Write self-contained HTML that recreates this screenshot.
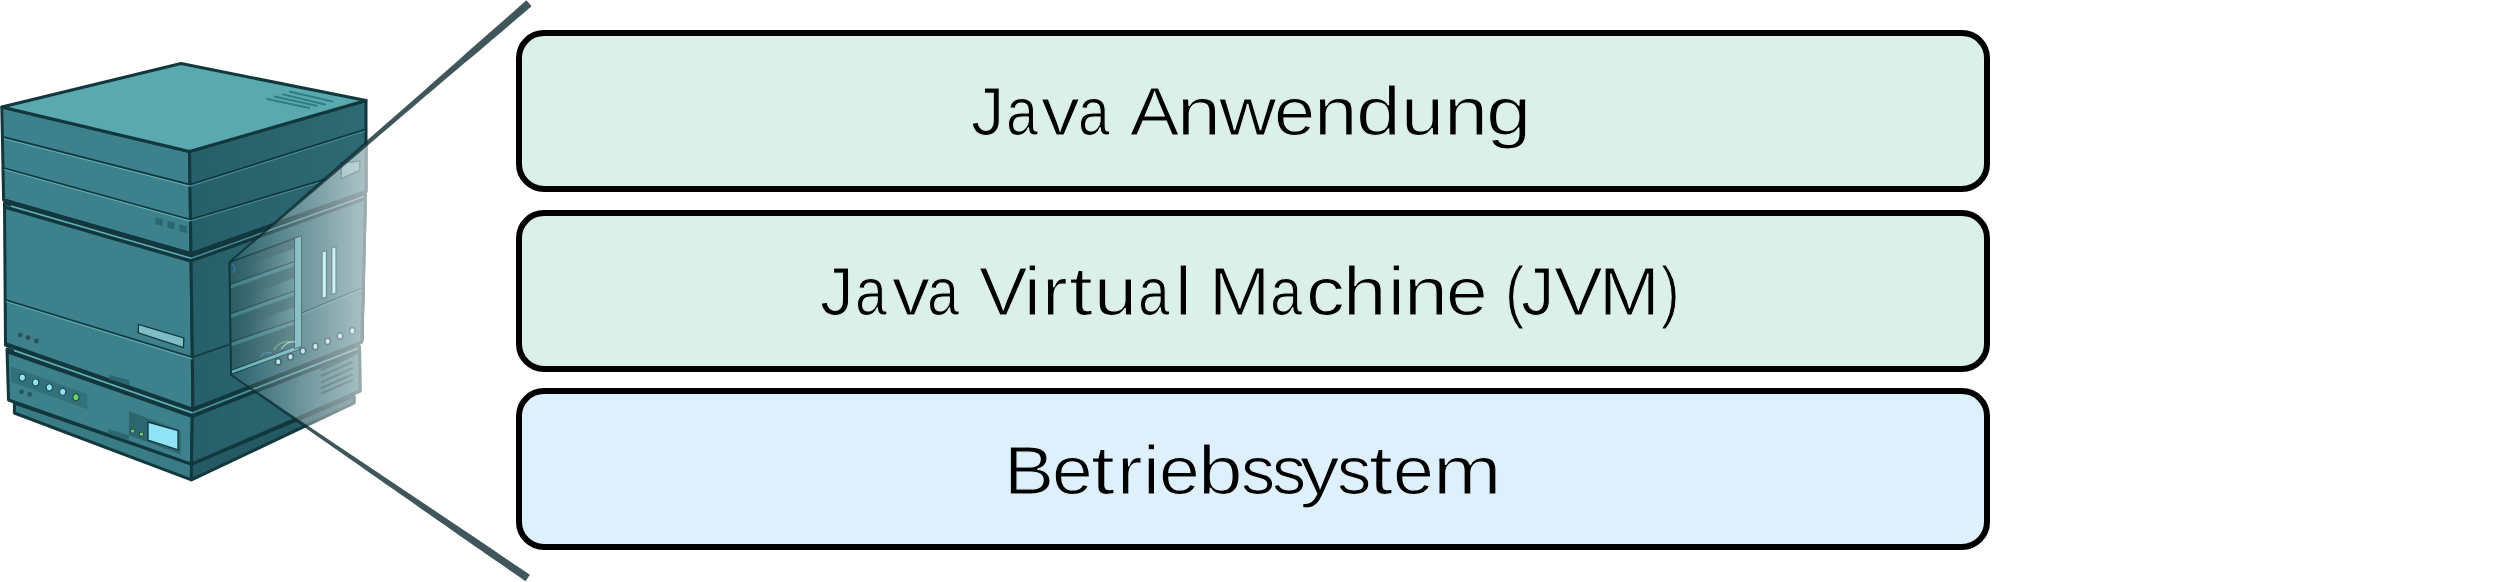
<!DOCTYPE html>
<html>
<head>
<meta charset="utf-8">
<style>
html,body{margin:0;padding:0;background:#ffffff;}
body{width:2506px;height:582px;position:relative;overflow:hidden;font-family:"Liberation Sans",sans-serif;}
.box{position:absolute;box-sizing:border-box;border:6px solid #000;border-radius:28px;}
.b1{left:516px;top:30px;width:1474px;height:162px;background:#dcf0ea;}
.b2{left:516px;top:210px;width:1474px;height:162px;background:#dcf0ea;}
.b3{left:516px;top:388px;width:1474px;height:162px;background:#def0fc;}
.t{position:absolute;font-size:68.5px;line-height:68.5px;white-space:nowrap;color:#000;transform-origin:0 0;-webkit-text-stroke:1.2px #dcf0ea;}
svg{position:absolute;left:0;top:0;}
</style>
</head>
<body>
<div class="box b1"></div>
<div class="box b2"></div>
<div class="box b3"></div>
<!--TEXT-->
<div class="t" style="left:971.30px;top:78px;transform:scaleX(0.9713)">J</div>
<div class="t" style="left:1006.30px;top:78px;transform:scaleX(0.8389)">a</div>
<div class="t" style="left:1041.10px;top:78px;transform:scaleX(1.1301)">v</div>
<div class="t" style="left:1077.53px;top:78px;transform:scaleX(0.8303)">a</div>
<div class="t" style="left:1130.31px;top:78px;transform:scaleX(1.0752)">A</div>
<div class="t" style="left:1176.98px;top:78px;transform:scaleX(1.1515)">n</div>
<div class="t" style="left:1219.45px;top:78px;transform:scaleX(1.1576)">w</div>
<div class="t" style="left:1274.08px;top:78px;transform:scaleX(1.0807)">e</div>
<div class="t" style="left:1314.13px;top:78px;transform:scaleX(1.1408)">n</div>
<div class="t" style="left:1355.80px;top:78px;transform:scaleX(1.1788)">d</div>
<div class="t" style="left:1400.78px;top:78px;transform:scaleX(1.1302)">u</div>
<div class="t" style="left:1443.96px;top:78px;transform:scaleX(1.1550)">n</div>
<div class="t" style="left:1486.06px;top:78px;transform:scaleX(1.1909)">g</div>
<div class="t" style="left:820.18px;top:258px;transform:scaleX(0.9824)">J</div>
<div class="t" style="left:855.41px;top:258px;transform:scaleX(0.8360)">a</div>
<div class="t" style="left:891.74px;top:258px;transform:scaleX(1.1077)">v</div>
<div class="t" style="left:926.59px;top:258px;transform:scaleX(0.8417)">a</div>
<div class="t" style="left:979.07px;top:258px;transform:scaleX(1.0599)">V</div>
<div class="t" style="left:1024.37px;top:258px;transform:scaleX(1.1000)">i</div>
<div class="t" style="left:1042.00px;top:258px;transform:scaleX(1.1264)">r</div>
<div class="t" style="left:1068.51px;top:258px;transform:scaleX(1.2500)">t</div>
<div class="t" style="left:1093.78px;top:258px;transform:scaleX(1.1302)">u</div>
<div class="t" style="left:1137.53px;top:258px;transform:scaleX(0.8303)">a</div>
<div class="t" style="left:1175.04px;top:258px;transform:scaleX(1.1000)">l</div>
<div class="t" style="left:1208.97px;top:258px;transform:scaleX(1.0718)">M</div>
<div class="t" style="left:1270.08px;top:258px;transform:scaleX(0.8474)">a</div>
<div class="t" style="left:1306.07px;top:258px;transform:scaleX(1.1283)">c</div>
<div class="t" style="left:1343.24px;top:258px;transform:scaleX(1.1406)">h</div>
<div class="t" style="left:1387.52px;top:258px;transform:scaleX(1.1000)">i</div>
<div class="t" style="left:1404.08px;top:258px;transform:scaleX(1.1515)">n</div>
<div class="t" style="left:1445.74px;top:258px;transform:scaleX(1.0934)">e</div>
<div class="t" style="left:1504.75px;top:258px;transform:scaleX(0.8450)">(</div>
<div class="t" style="left:1521.49px;top:258px;transform:scaleX(0.9750)">J</div>
<div class="t" style="left:1553.96px;top:258px;transform:scaleX(1.0646)">V</div>
<div class="t" style="left:1599.21px;top:258px;transform:scaleX(1.0650)">M</div>
<div class="t" style="left:1661.33px;top:258px;transform:scaleX(0.8133)">)</div>
<div class="t" style="left:1003.91px;top:437px;transform:scaleX(1.0970);-webkit-text-stroke-color:#def0fc">B</div>
<div class="t" style="left:1052.42px;top:437px;transform:scaleX(1.0679);-webkit-text-stroke-color:#def0fc">e</div>
<div class="t" style="left:1091.21px;top:437px;transform:scaleX(1.2500);-webkit-text-stroke-color:#def0fc">t</div>
<div class="t" style="left:1117.36px;top:437px;transform:scaleX(1.1140);-webkit-text-stroke-color:#def0fc">r</div>
<div class="t" style="left:1143.32px;top:437px;transform:scaleX(1.1000);-webkit-text-stroke-color:#def0fc">i</div>
<div class="t" style="left:1159.21px;top:437px;transform:scaleX(1.0711);-webkit-text-stroke-color:#def0fc">e</div>
<div class="t" style="left:1197.58px;top:437px;transform:scaleX(1.1709);-webkit-text-stroke-color:#def0fc">b</div>
<div class="t" style="left:1241.16px;top:437px;transform:scaleX(0.9951);-webkit-text-stroke-color:#def0fc">s</div>
<div class="t" style="left:1271.66px;top:437px;transform:scaleX(0.9951);-webkit-text-stroke-color:#def0fc">s</div>
<div class="t" style="left:1300.38px;top:437px;transform:scaleX(1.1500);-webkit-text-stroke-color:#def0fc">y</div>
<div class="t" style="left:1336.54px;top:437px;transform:scaleX(1.0022);-webkit-text-stroke-color:#def0fc">s</div>
<div class="t" style="left:1369.46px;top:437px;transform:scaleX(1.2500);-webkit-text-stroke-color:#def0fc">t</div>
<div class="t" style="left:1393.30px;top:437px;transform:scaleX(1.0743);-webkit-text-stroke-color:#def0fc">e</div>
<div class="t" style="left:1432.73px;top:437px;transform:scaleX(1.2008);-webkit-text-stroke-color:#def0fc">m</div>
<!--/TEXT-->
<svg width="560" height="582" viewBox="0 0 560 582">
<defs>
<linearGradient id="rg" x1="190" y1="0" x2="366" y2="0" gradientUnits="userSpaceOnUse"><stop offset="0" stop-color="#265f69"/><stop offset="1" stop-color="#2e6a73"/></linearGradient>
<linearGradient id="fade" x1="230" y1="0" x2="372" y2="0" gradientUnits="userSpaceOnUse">
<stop offset="0" stop-color="#fff" stop-opacity="0"/>
<stop offset="1" stop-color="#fff" stop-opacity="0.62"/>
</linearGradient>
<mask id="inside" maskUnits="userSpaceOnUse" x="0" y="0" width="560" height="582"><polygon points="1.8,107 181,63.5 366,100.5 366,191.5 365.5,196 362,339 362.5,343 359.5,344.5 360,391 354,396 354,403 191.4,479.8 14.4,413 14.4,403 8.5,400 7,349 5.5,345 4.5,203 3.6,200" fill="#fff" stroke="#fff" stroke-width="3" stroke-linejoin="round"/></mask>
</defs>
<polygon points="14.40,403.00 191.40,464.20 191.40,479.80 14.40,413.00" fill="#3a7c86" stroke="#12373d" stroke-width="3" stroke-linejoin="round"/>
<polygon points="191.40,464.20 354.00,396.00 354.00,403.00 191.40,479.80" fill="#245a63" stroke="#12373d" stroke-width="3" stroke-linejoin="round"/>
<polygon points="7.00,349.00 192.40,411.54 191.40,464.20 8.50,400.00" fill="#3c818b" stroke="#12373d" stroke-width="3" stroke-linejoin="round"/>
<polygon points="192.40,411.50 359.50,346.33 360.00,391.00 191.40,464.20" fill="url(#rg)" stroke="#12373d" stroke-width="3" stroke-linejoin="round"/>
<polygon points="4.50,203.00 191.00,256.49 193.00,410.75 5.50,345.12" fill="#3c818b" stroke="#12373d" stroke-width="3" stroke-linejoin="round"/>
<polygon points="191.00,256.60 365.50,194.30 362.00,342.00 193.00,410.27" fill="url(#rg)" stroke="#12373d" stroke-width="3" stroke-linejoin="round"/>
<polygon points="1.80,107.00 189.50,151.50 191.00,253.49 3.60,200.00" fill="#3c818b" stroke="#12373d" stroke-width="3" stroke-linejoin="round"/>
<polygon points="189.50,151.50 366.00,100.50 366.00,191.50 191.00,253.60" fill="url(#rg)" stroke="#12373d" stroke-width="3" stroke-linejoin="round"/>
<polygon points="1.80,107.00 181.00,63.50 366.00,100.50 189.50,151.50" fill="#5aa9ae" stroke="#12373d" stroke-width="3" stroke-linejoin="round"/>
<line x1="4.00" y1="138.60" x2="190.00" y2="186.10" stroke="#5fb0b6" stroke-width="1.2" />
<line x1="4.00" y1="137.10" x2="190.00" y2="184.60" stroke="#12373d" stroke-width="1.6" />
<line x1="4.00" y1="169.50" x2="190.00" y2="220.90" stroke="#5fb0b6" stroke-width="1.2" />
<line x1="4.00" y1="168.00" x2="190.00" y2="219.40" stroke="#12373d" stroke-width="1.6" />
<line x1="190.00" y1="186.10" x2="365.00" y2="131.00" stroke="#44909a" stroke-width="1.2" />
<line x1="190.00" y1="184.60" x2="365.00" y2="129.50" stroke="#12373d" stroke-width="1.6" />
<line x1="190.00" y1="220.90" x2="326.00" y2="180.50" stroke="#44909a" stroke-width="1.2" />
<line x1="190.00" y1="219.40" x2="326.00" y2="179.00" stroke="#12373d" stroke-width="1.6" />
<line x1="290.10" y1="91.80" x2="332.20" y2="101.40" stroke="#2f7d84" stroke-width="2" stroke-linecap="round"/>
<line x1="282.90" y1="94.40" x2="325.00" y2="104.50" stroke="#2f7d84" stroke-width="2" stroke-linecap="round"/>
<line x1="274.50" y1="96.60" x2="316.60" y2="105.70" stroke="#2f7d84" stroke-width="2" stroke-linecap="round"/>
<line x1="267.30" y1="99.00" x2="309.40" y2="108.10" stroke="#2f7d84" stroke-width="2" stroke-linecap="round"/>
<polygon points="155.50,217.50 162.50,219.30 162.50,226.00 155.50,224.20" fill="#2b6770" />
<polygon points="167.50,221.00 174.50,222.80 174.50,229.50 167.50,227.70" fill="#2b6770" />
<polygon points="179.50,224.50 186.50,226.30 186.50,233.00 179.50,231.20" fill="#2b6770" />
<polygon points="341.00,163.00 359.80,161.00 359.80,170.50 341.20,178.80" fill="#5c9aa2" stroke="#12373d" stroke-width="1.4"/>
<polygon points="3.60,198.14 191.00,252.49 191.00,256.19 3.60,201.84" fill="#12373d" />
<polygon points="11.00,205.29 191.00,257.49 191.00,259.09 11.00,206.89" fill="#5fb0b6" />
<polygon points="4.60,205.13 191.00,259.19 191.00,262.79 4.60,208.73" fill="#12373d" />
<polygon points="191.00,252.60 365.50,190.30 365.50,194.00 191.00,256.30" fill="#12373d" />
<polygon points="191.00,257.60 364.00,195.84 364.00,197.44 191.00,259.20" fill="#44909a" />
<polygon points="191.00,259.30 364.00,197.54 364.00,200.84 191.00,262.60" fill="#12373d" />
<line x1="6.00" y1="301.50" x2="192.50" y2="359.00" stroke="#5fb0b6" stroke-width="1.2" />
<line x1="6.00" y1="300.00" x2="192.50" y2="357.30" stroke="#12373d" stroke-width="1.6" />
<line x1="192.50" y1="357.30" x2="229.50" y2="344.50" stroke="#12373d" stroke-width="1.6" />
<line x1="300.50" y1="313.50" x2="361.90" y2="288.00" stroke="#12373d" stroke-width="1.4" />
<line x1="300.50" y1="315.00" x2="361.90" y2="289.50" stroke="#44909a" stroke-width="1" />
<polygon points="138.30,324.30 183.80,338.00 183.50,347.50 138.30,332.90" fill="#7ebdc6" stroke="#12373d" stroke-width="1.3"/>
<circle cx="20.3" cy="335.1" r="2.4" fill="#2c4f5c"/>
<circle cx="28" cy="337.7" r="2.4" fill="#2c4f5c"/>
<circle cx="36.4" cy="341" r="2.4" fill="#2c4f5c"/>
<polygon points="229.20,262.60 299.30,236.40 299.30,347.30 231.00,374.30" fill="#2b5c64" stroke="#12373d" stroke-width="1.6" stroke-linejoin="round"/>
<defs><linearGradient id="surf" x1="0" y1="0" x2="1" y2="0"><stop offset="0" stop-color="#3b7880" stop-opacity="0"/><stop offset="1" stop-color="#4a8a92" stop-opacity="0.7"/></linearGradient></defs>
<polygon points="250.00,265.50 295.00,248.30 295.00,261.30 250.00,277.50" fill="url(#surf)" />
<polygon points="250.00,295.00 295.00,277.70 295.00,290.70 250.00,307.00" fill="url(#surf)" />
<polygon points="250.00,323.50 295.00,307.00 295.00,320.00 250.00,335.50" fill="url(#surf)" />
<polygon points="231.00,284.50 295.00,261.80 295.00,265.80 231.00,288.50" fill="#3e7e86" />
<line x1="231.00" y1="284.00" x2="295.00" y2="261.30" stroke="#1a454c" stroke-width="1.1" />
<polygon points="231.00,314.00 295.00,291.20 295.00,295.20 231.00,318.00" fill="#3e7e86" />
<line x1="231.00" y1="313.50" x2="295.00" y2="290.70" stroke="#1a454c" stroke-width="1.1" />
<polygon points="231.00,342.50 295.00,320.50 295.00,324.50 231.00,346.50" fill="#3e7e86" />
<line x1="231.00" y1="342.00" x2="295.00" y2="320.00" stroke="#1a454c" stroke-width="1.1" />
<polygon points="231.00,370.50 299.30,345.00 299.30,349.50 231.00,374.30" fill="#5ab0b8" stroke="#12373d" stroke-width="1"/>
<polygon points="294.50,238.30 301.50,235.80 301.50,346.50 294.50,349.00" fill="#5aa6ae" stroke="#12373d" stroke-width="1"/>
<path d="M274,350 q6,-10 17,-8" stroke="#4fae6a" stroke-width="1.3" fill="none"/>
<path d="M281,349 q7,-9 15,-7" stroke="#8fbfc0" stroke-width="1.1" fill="none"/>
<path d="M261,356 q5,-5 11,-3" stroke="#3a78b0" stroke-width="1.3" fill="none"/>
<path d="M232,264 q5,3 1,9" stroke="#3a78b0" stroke-width="1.2" fill="none"/>
<polygon points="322.00,252.00 326.50,250.50 326.50,297.00 322.00,298.50" fill="#9fe6f0" stroke="#12373d" stroke-width="1.2"/>
<polygon points="331.80,248.00 336.00,246.50 336.00,293.00 331.80,294.50" fill="#9fe6f0" stroke="#12373d" stroke-width="1.2"/>
<ellipse cx="278.2" cy="361.8" rx="2.8" ry="3.3" fill="#a6dde8" stroke="#12373d" stroke-width="1.5"/>
<ellipse cx="290.5" cy="356.7" rx="2.8" ry="3.3" fill="#a6dde8" stroke="#12373d" stroke-width="1.5"/>
<ellipse cx="302.9" cy="351.1" rx="2.8" ry="3.3" fill="#a6dde8" stroke="#12373d" stroke-width="1.5"/>
<ellipse cx="315.3" cy="346.4" rx="2.8" ry="3.3" fill="#a6dde8" stroke="#12373d" stroke-width="1.5"/>
<ellipse cx="327.6" cy="341.2" rx="2.8" ry="3.3" fill="#a6dde8" stroke="#12373d" stroke-width="1.5"/>
<ellipse cx="340" cy="336" rx="2.8" ry="3.3" fill="#a6dde8" stroke="#12373d" stroke-width="1.5"/>
<ellipse cx="352.3" cy="330.9" rx="2.8" ry="3.3" fill="#a6dde8" stroke="#12373d" stroke-width="1.5"/>
<polygon points="6.90,342.62 192.40,407.54 192.40,411.94 6.90,347.01" fill="#12373d" />
<polygon points="14.00,349.50 192.40,411.94 192.40,414.04 14.00,351.60" fill="#5fb0b6" />
<polygon points="7.50,349.32 192.40,414.04 192.40,418.14 7.50,353.43" fill="#12373d" />
<polygon points="192.40,407.50 359.50,342.33 359.50,346.73 192.40,411.90" fill="#12373d" />
<polygon points="192.40,411.90 358.00,347.32 358.00,349.42 192.40,414.00" fill="#44909a" />
<polygon points="192.40,414.00 358.00,349.42 358.00,353.32 192.40,417.90" fill="#12373d" />
<polygon points="11.20,366.40 86.80,393.90 87.60,409.30 11.20,381.90" fill="#32707a" />
<ellipse cx="22.3" cy="377.6" rx="3.2" ry="3.6" fill="#8fe3f5" stroke="#12373d" stroke-width="1"/>
<ellipse cx="35.6" cy="382.4" rx="3.2" ry="3.6" fill="#8fe3f5" stroke="#12373d" stroke-width="1"/>
<ellipse cx="49.3" cy="387.4" rx="3.2" ry="3.6" fill="#8fe3f5" stroke="#12373d" stroke-width="1"/>
<ellipse cx="62.7" cy="391.8" rx="3.2" ry="3.6" fill="#8fe3f5" stroke="#12373d" stroke-width="1"/>
<ellipse cx="75.9" cy="397.3" rx="3.2" ry="3.6" fill="#6cd36c" stroke="#12373d" stroke-width="1"/>
<circle cx="21.5" cy="391.8" r="2.3" fill="#2c4f5c"/>
<circle cx="29.6" cy="394.4" r="2.3" fill="#2c4f5c"/>
<polygon points="109.00,375.00 129.00,380.00 129.70,385.30 109.00,379.30" fill="#2b6770" />
<polygon points="108.40,429.30 128.90,435.30 128.90,440.10 108.40,434.10" fill="#2b6770" />
<polygon points="128.90,411.30 180.60,430.50 180.60,454.60 128.90,435.30" fill="#2e6670" />
<polygon points="148.00,422.00 178.00,430.50 178.00,449.80 148.00,440.00" fill="#8fe3f5" stroke="#12373d" stroke-width="1.3"/>
<rect x="130.8" y="429.3" width="3.6" height="3.6" fill="#6cd36c" stroke="#12373d" stroke-width="0.6"/>
<rect x="139.6" y="432.3" width="3.6" height="3.6" fill="#6cd36c" stroke="#12373d" stroke-width="0.6"/>
<line x1="320.80" y1="370.00" x2="352.80" y2="355.60" stroke="#0f3a40" stroke-width="2.2" />
<line x1="320.80" y1="376.20" x2="352.80" y2="361.80" stroke="#0f3a40" stroke-width="2.2" />
<line x1="320.80" y1="382.40" x2="352.80" y2="368.00" stroke="#0f3a40" stroke-width="2.2" />
<line x1="320.80" y1="388.20" x2="352.80" y2="374.20" stroke="#0f3a40" stroke-width="2.2" />
<line x1="320.80" y1="393.80" x2="352.80" y2="380.00" stroke="#0f3a40" stroke-width="2.2" />
<polygon points="229.60,262.00 372.00,139.00 372.00,471.50 231.00,375.00" fill="url(#fade)" mask="url(#inside)"/>
<line x1="229.60" y1="262.00" x2="231.00" y2="375.00" stroke="#12373d" stroke-width="1.6" />
<g fill-opacity="0.8">
<polygon points="230.19,262.68 237.72,256.27 245.25,249.85 252.78,243.44 260.31,237.03 267.84,230.61 275.38,224.20 282.91,217.78 290.44,211.37 297.97,204.96 305.50,198.54 313.03,192.13 320.56,185.71 328.10,179.30 335.63,172.89 343.16,166.47 350.69,160.06 358.22,153.64 365.75,147.23 373.27,140.80 380.78,134.37 388.30,127.93 395.81,121.50 403.32,115.06 410.83,108.63 418.35,102.19 425.88,95.78 433.43,89.39 440.99,83.00 448.54,76.61 456.09,70.22 463.65,63.84 471.25,57.50 478.84,51.16 486.40,44.78 493.93,38.36 501.45,31.94 508.97,25.51 516.50,19.09 524.02,12.67 531.55,6.25 526.45,0.35 519.01,6.86 511.56,13.38 504.12,19.89 496.67,26.40 489.22,32.92 481.78,39.43 474.37,45.98 466.99,52.58 459.62,59.17 452.21,65.73 444.79,72.27 437.37,78.82 429.96,85.36 422.54,91.91 415.10,98.43 407.65,104.93 400.19,111.43 392.73,117.93 385.27,124.43 377.82,130.93 370.36,137.43 362.91,143.94 355.47,150.46 348.03,156.98 340.59,163.50 333.15,170.02 325.71,176.54 318.28,183.07 310.84,189.59 303.40,196.11 295.96,202.63 288.52,209.15 281.08,215.67 273.64,222.19 266.21,228.71 258.77,235.23 251.33,241.76 243.89,248.28 236.45,254.80 229.01,261.32" fill="#0f2d32" />
<polygon points="230.55,375.66 237.92,380.80 245.29,385.95 252.66,391.09 260.03,396.23 267.40,401.38 274.77,406.52 282.14,411.66 289.52,416.80 296.89,421.95 304.26,427.09 311.63,432.23 319.00,437.38 326.37,442.52 333.74,447.67 341.11,452.81 348.48,457.96 355.84,463.11 363.21,468.25 370.58,473.40 377.95,478.54 385.32,483.69 392.69,488.83 400.06,493.97 407.43,499.12 414.80,504.26 422.17,509.41 429.54,514.55 436.91,519.70 444.28,524.84 451.65,529.98 459.02,535.13 466.39,540.27 473.78,545.40 481.17,550.51 488.56,555.63 495.94,560.75 503.33,565.87 510.72,570.98 518.11,576.10 525.50,581.22 529.90,574.78 522.46,569.75 515.01,564.72 507.56,559.68 500.12,554.65 492.67,549.62 485.22,544.59 477.78,539.55 470.33,534.53 462.86,529.52 455.40,524.52 447.93,519.51 440.47,514.50 433.00,509.50 425.54,504.49 418.07,499.49 410.61,494.48 403.14,489.48 395.68,484.47 388.21,479.46 380.75,474.46 373.28,469.45 365.82,464.45 358.35,459.44 350.88,454.44 343.42,449.44 335.95,444.43 328.48,439.43 321.02,434.42 313.56,429.42 306.09,424.41 298.63,419.40 291.16,414.40 283.70,409.39 276.24,404.38 268.77,399.37 261.31,394.37 253.84,389.36 246.38,384.35 238.92,379.35 231.45,374.34" fill="#0f2d32" />
</g>
</svg>
</body>
</html>
